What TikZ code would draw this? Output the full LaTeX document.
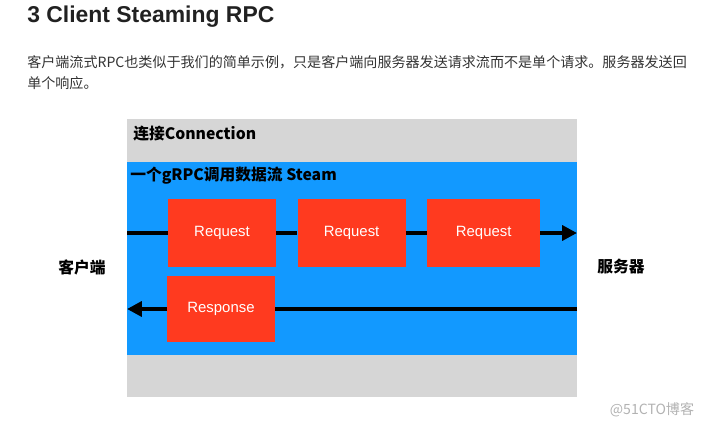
\documentclass[tikz,border=0pt]{standalone}
\usepackage{fontspec}
\setmainfont{Liberation Sans}
\newfontfamily\cjk{Noto Sans CJK SC}
\usetikzlibrary{arrows.meta, positioning}
\definecolor{connGray}{HTML}{D6D6D6}
\definecolor{streamBlue}{HTML}{1299FF}
\definecolor{msgRed}{HTML}{FF3A1F}
\definecolor{bodyText}{HTML}{333333}
\tikzset{
	message/.style={
		rectangle,
		minimum width=2.7cm,
		minimum height=1.7cm,
		text centered,
		fill=msgRed,
		text=white,
		font=\fontsize{10.6}{12}\selectfont
	},
	caption/.style={
		anchor=west,
		inner sep=0pt,
		font=\cjk\bfseries\fontsize{11.2}{13}\selectfont
	},
	endpoint/.style={
		font=\cjk\bfseries\fontsize{11.2}{13}\selectfont
	},
	prose/.style={
		anchor=west,
		inner sep=0pt,
		text=bodyText,
		font=\cjk\fontsize{10}{13}\selectfont
	},
	track/.style={line width=2.8pt},
	trackarrow/.style={line width=2.8pt,-{Triangle[length=10.5pt,width=10.5pt]}}
}

\begin{document}
\begin{tikzpicture}[x=0.025cm, y=-0.025cm]
	\useasboundingbox (0,0) rectangle (710,427);
	% heading and text
	\node (title) [anchor=base west, inner sep=0pt, text=black!87, font=\bfseries\fontsize{16.3}{18}\selectfont] at (27,23) {3 Client Steaming RPC};
	\node (line1) [prose] at (27,62) {客户端流式RPC也类似于我们的简单示例，只是客户端向服务器发送请求流而不是单个请求。服务器发送回};
	\node (line2) [prose] at (27,83) {单个响应。};
	
	% connection and stream
	\fill [connGray] (127,119) rectangle (577,397);
	\fill [streamBlue] (127,162) rectangle (577,355);
	\node (conn) [caption] at (133,134) {连接Connection};
	\node (stream) [caption] at (130,176) {一个gRPC调用数据流 Steam};
	
	\coordinate (cin) at (127,233);
	\coordinate (cout) at (577,233);
	\coordinate (sin) at (577,309);
	\coordinate (sout) at (127,309);
	
	\node (req1) [message] at (222,233) {Request};
	\node (req2) [message, right=0.525cm of req1] {Request};
	\node (req3) [message, minimum width=2.825cm, right=0.525cm of req2] {Request};
	\node (resp) [message, minimum height=1.65cm] at (221,309) {Response};
	
	\draw [track] (cin) -- (req1);
	\draw [track] (req1) -- (req2);
	\draw [track] (req2) -- (req3);
	\draw [trackarrow] (req3) -- (cout);
	\draw [track] (sin) -- (resp);
	\draw [trackarrow] (resp) -- (sout);
	
	\node (client) [endpoint] at (82,267) {客户端};
	\node (server) [endpoint] at (621,267) {服务器};
	\node (mark) [text=black!30, font=\cjk\fontsize{10}{12}\selectfont] at (652,410) {@51CTO博客};
\end{tikzpicture}
\end{document}
